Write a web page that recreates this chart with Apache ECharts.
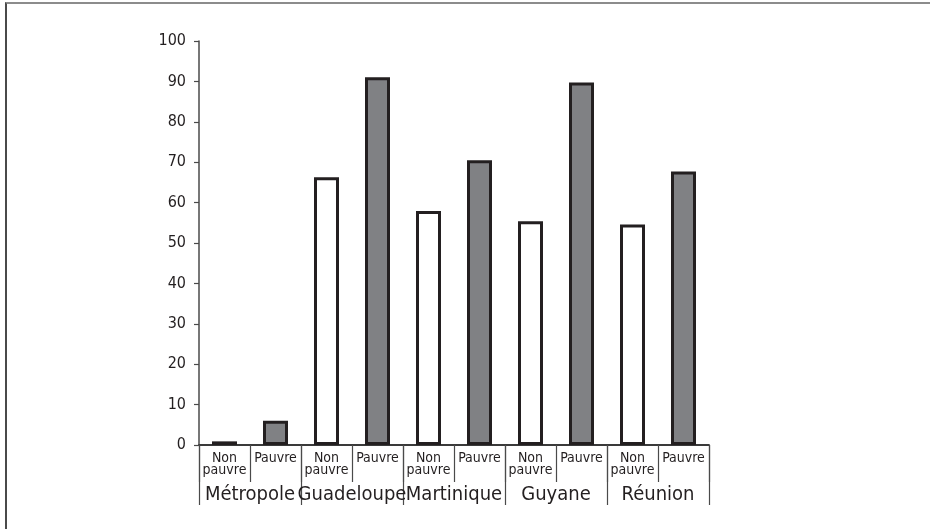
<!DOCTYPE html>
<html>
<head>
<meta charset="utf-8">
<script src="https://cdn.jsdelivr.net/npm/echarts@6/dist/echarts.min.js"></script>
<style>
  html, body { margin: 0; padding: 0; background: #fff; }
  #frame { position: absolute; left: 5px; top: 2px; width: 925px; height: 527px;
           border-top: 2px solid #8c8c8c; border-left: 2px solid #4a4a4a; box-sizing: border-box; }
  #bar-chart { position: absolute; left: 0; top: 0; width: 930px; height: 529px; }
</style>
</head>
<body>
<div id="frame"></div>
<div id="bar-chart"></div>
<script>
const groups = ['Métropole', 'Guadeloupe', 'Martinique', 'Guyane', 'Réunion'];
const statuses = ['Non pauvre', 'Pauvre'];
const nonPauvre = [0.9, 66.3, 57.9, 55.4, 54.6];
const pauvre = [6.0, 91.0, 70.5, 89.7, 67.7];
const yTicks = [0, 100, 10]; // min, max, interval

const font = '"Liberation Sans Narrow", "DejaVu Sans Condensed", "Roboto Condensed", sans-serif';
const ink = '#231f20';

// one category per bar, named "group|status"
const categories = [];
const values = [];
groups.forEach((g, i) => {
  categories.push(g + '|' + statuses[0]);
  values.push(nonPauvre[i]);
  categories.push(g + '|' + statuses[1]);
  values.push(pauvre[i]);
});

const chart = echarts.init(document.getElementById('bar-chart'));
const option = {
  animation: false,
  grid: { left: 199, right: 221, top: 41, bottom: 84 },
  xAxis: [{
    type: 'category',
    data: categories,
    position: 'bottom',
    axisLine: { show: true, lineStyle: { color: '#3a3a3a', width: 1.8 } },
    axisTick: { show: true, interval: 0, length: 37, lineStyle: { color: '#4a4a4a', width: 1.2 } },
    axisLabel: {
      interval: 0,
      margin: 7,
      color: ink,
      fontFamily: font,
      fontSize: 14,
      lineHeight: 12,
      formatter: v => v.split('|')[1].replace(' ', '\n')
    }
  }, {
    type: 'category',
    data: groups,
    position: 'bottom',
    axisLine: { show: false },
    axisTick: { show: true, interval: 0, length: 60, lineStyle: { color: '#4a4a4a', width: 1.2 } },
    axisLabel: {
      interval: 0,
      margin: 40,
      color: ink,
      fontFamily: font,
      fontSize: 20
    }
  }],
  yAxis: {
    type: 'value',
    min: yTicks[0],
    max: yTicks[1],
    interval: yTicks[2],
    axisLine: { show: true, lineStyle: { color: '#4a4a4a', width: 1.5 } },
    axisTick: { show: true, length: 5, lineStyle: { color: '#4a4a4a', width: 1.2 } },
    splitLine: { show: false },
    axisLabel: { margin: 13, color: ink, fontFamily: font, fontSize: 16 }
  },
  series: [{
    type: 'bar',
    xAxisIndex: 0,
    barWidth: 25,
    data: values,
    itemStyle: {
      color: p => p.name.endsWith('|Pauvre') ? '#808184' : '#ffffff',
      borderColor: ink,
      borderWidth: 3
    }
  }]
};
chart.setOption(option);
</script>
</body>
</html>
